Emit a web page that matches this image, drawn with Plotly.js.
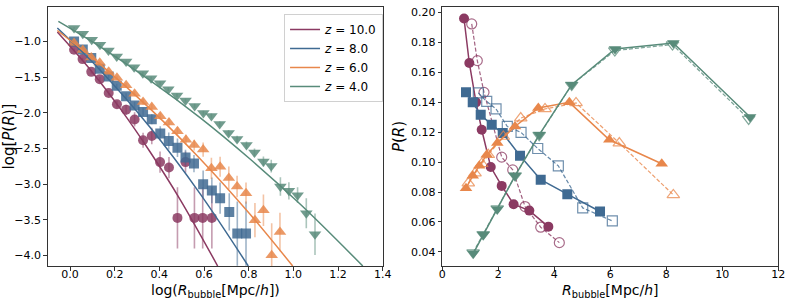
<!DOCTYPE html>
<html>
<head>
<meta charset="utf-8">
<script src="https://cdn.plot.ly/plotly-3.0.1.min.js"></script>
<style>html,body{margin:0;padding:0;background:#fff}#plot{width:789px;height:300px}</style>
</head>
<body>
<div id="plot"></div>
<script>
// ---------- Left panel: log P(R) vs log R ----------
const lx10 = [0.018,0.056,0.095,0.133,0.173,0.210,0.251,0.289,0.327,0.366,0.403,0.443,0.481,0.517,0.557,0.594,0.635];
const ly10 = [-1.117,-1.247,-1.426,-1.528,-1.721,-1.879,-1.955,-2.093,-2.385,-2.324,-2.690,-2.767,-3.472,-2.690,-3.472,-3.472,-3.472];
const le10 = [0.02,0.02,0.025,0.03,0.035,0.05,0.07,0.1,0.105,0.115,0.15,0.15,0.43,0.15,0.43,0.43,0.43];

const lx8 = [0.018,0.057,0.095,0.133,0.173,0.209,0.251,0.289,0.327,0.366,0.404,0.442,0.481,0.517,0.555,0.596,0.635,0.672,0.713,0.749,0.788];
const ly8 = [-1.000,-1.112,-1.233,-1.381,-1.492,-1.622,-1.767,-1.896,-1.987,-2.090,-2.289,-2.395,-2.490,-2.626,-2.711,-2.999,-3.087,-3.195,-3.388,-3.691,-3.691];
const le8 = [0.015,0.015,0.02,0.02,0.025,0.03,0.04,0.05,0.06,0.07,0.1,0.12,0.13,0.11,0.12,0.19,0.18,0.22,0.26,0.45,0.45];

const lx6 = [0.018,0.057,0.095,0.133,0.173,0.210,0.251,0.289,0.327,0.366,0.404,0.443,0.481,0.519,0.556,0.596,0.633,0.672,0.711,0.748,0.788,0.828,0.866,0.903,0.940];
const ly6 = [-1.022,-1.121,-1.226,-1.299,-1.426,-1.507,-1.615,-1.732,-1.847,-1.917,-2.048,-2.135,-2.258,-2.376,-2.451,-2.515,-2.778,-2.756,-2.912,-3.031,-3.125,-3.504,-3.364,-3.996,-3.669];
const le6 = [0.015,0.015,0.02,0.02,0.025,0.025,0.03,0.035,0.04,0.045,0.05,0.055,0.06,0.07,0.075,0.1,0.15,0.14,0.16,0.15,0.15,0.24,0.22,0.45,0.27];

const lx4 = [0.018,0.057,0.097,0.134,0.172,0.209,0.251,0.287,0.326,0.363,0.403,0.440,0.479,0.517,0.558,0.597,0.633,0.670,0.710,0.748,0.790,0.826,0.866,0.901,0.942,0.980,1.019,1.058,1.097];
const ly4 = [-0.812,-0.892,-0.976,-1.046,-1.126,-1.211,-1.281,-1.360,-1.444,-1.514,-1.584,-1.669,-1.756,-1.826,-1.903,-2.001,-2.044,-2.156,-2.282,-2.367,-2.451,-2.556,-2.683,-2.746,-3.031,-3.093,-3.153,-3.406,-3.701];
const le4 = [0.01,0.01,0.01,0.012,0.012,0.014,0.015,0.016,0.018,0.02,0.022,0.024,0.026,0.028,0.03,0.032,0.035,0.038,0.04,0.045,0.05,0.055,0.07,0.09,0.13,0.12,0.11,0.21,0.29];

// fitted curves
const fx10 = [-0.0569,0.0896,0.224,0.358,0.493,0.661];
const fy10 = [-0.868,-1.392,-1.938,-2.545,-3.215,-4.146];
const fx8 = [-0.0569,0.134,0.358,0.582,0.798];
const fy8 = [-0.812,-1.399,-2.202,-3.131,-4.146];
const fx6 = [-0.0569,0.134,0.358,0.582,0.806,0.997];
const fy6 = [-0.846,-1.317,-1.941,-2.643,-3.421,-4.146];
const fx4 = [-0.0524,0.134,0.358,0.582,0.806,1.030,1.311];
const fy4 = [-0.719,-1.072,-1.544,-2.067,-2.647,-3.278,-4.146];

const zLabels = ['<i>z</i> = 10.0','<i>z</i> = 8.0','<i>z</i> = 6.0','<i>z</i> = 4.0'];

// ---------- Right panel: P(R) vs R ----------
const rx10 = [0.775,0.964,1.204,1.407,1.729,2.121,2.546,3.107,3.786];
const ry10 = [0.1959,0.1662,0.1399,0.1216,0.0967,0.0841,0.0719,0.0676,0.0569];
const rx10o = [1.05,1.25,1.489,2.121,2.514,2.954,3.514,4.179];
const ry10o = [0.1923,0.1678,0.1466,0.1033,0.0948,0.0703,0.0565,0.0462];

const rx8 = [0.846,1.086,1.371,1.764,2.157,2.775,3.514,4.464,5.632];
const ry8 = [0.1466,0.1399,0.1316,0.1249,0.1194,0.1042,0.0882,0.0786,0.0670];
const rx8o = [1.286,1.586,1.918,2.321,2.811,3.407,4.143,5.014,6.071];
const ry8o = [0.1462,0.1405,0.1355,0.1238,0.1198,0.1091,0.0975,0.0694,0.0607];

const rx6 = [0.846,1.086,1.321,1.586,1.964,2.596,3.429,4.536,5.964,7.836];
const ry6 = [0.0826,0.0908,0.0975,0.1049,0.1127,0.1238,0.1361,0.1399,0.1149,0.0989];
const rx6o = [0.929,1.168,1.407,1.643,2.179,2.8,3.668,4.775,6.321,8.25];
const ry6o = [0.0860,0.0926,0.0989,0.1049,0.1171,0.1294,0.1355,0.1395,0.1127,0.0781];

const rx4 = [1.107,1.464,1.964,2.596,3.464,4.621,6.168,8.25,10.99];
const ry4 = [0.0391,0.0514,0.0686,0.0908,0.1183,0.1517,0.1756,0.1796,0.1301];
const rx4o = [1.10,1.46,1.96,2.60,3.46,4.62,6.16,8.22,10.94];
const ry4o = [0.0395,0.0518,0.0690,0.0910,0.1180,0.1515,0.1745,0.1785,0.1288];

const leftXTitle = 'log(<i>R</i><sub>bubble</sub>[Mpc/<i>h</i>])';
const rightXTitle = '<i>R</i><sub>bubble</sub>[Mpc/<i>h</i>]';

// ---------- styling ----------
const cols = ['#8b3a62','#3f6a92','#e8874b','#588b7a'];
const rgba = (hex,a)=>{const n=parseInt(hex.slice(1),16);return `rgba(${n>>16},${(n>>8)&255},${n&255},${a})`;};
const syms = ['circle','square','triangle-up','triangle-down'];
const sizes = [10,10,11,11];

const LX=[lx10,lx8,lx6,lx4], LY=[ly10,ly8,ly6,ly4], LE=[le10,le8,le6,le4];
const FX=[fx10,fx8,fx6,fx4], FY=[fy10,fy8,fy6,fy4];
const RX=[rx10,rx8,rx6,rx4], RY=[ry10,ry8,ry6,ry4];
const RXo=[rx10o,rx8o,rx6o,rx4o], RYo=[ry10o,ry8o,ry6o,ry4o];

const traces=[];
for(let i=0;i<4;i++){
  traces.push({x:LX[i],y:LY[i],type:'scatter',mode:'markers',xaxis:'x',yaxis:'y',showlegend:false,
    marker:{symbol:syms[i],size:sizes[i],color:rgba(cols[i],0.85),line:{width:0}},
    error_y:{type:'data',array:LE[i],visible:true,color:rgba(cols[i],0.5),thickness:1.6,width:0},
    cliponaxis:true,hoverinfo:'skip'});
}
for(let i=0;i<4;i++){
  traces.push({x:FX[i],y:FY[i],type:'scatter',mode:'lines',xaxis:'x',yaxis:'y',name:zLabels[i],
    line:{color:cols[i],width:1.5,shape:'spline'},hoverinfo:'skip'});
}
for(let i=0;i<4;i++){
  traces.push({x:RXo[i],y:RYo[i],type:'scatter',mode:'lines+markers',xaxis:'x2',yaxis:'y2',showlegend:false,
    line:{color:rgba(cols[i],0.8),width:1.2,dash:'4px,2px'},
    marker:{symbol:syms[i]+'-open',size:sizes[i],color:rgba(cols[i],0.75),line:{width:1.2}},hoverinfo:'skip'});
  traces.push({x:RX[i],y:RY[i],type:'scatter',mode:'lines+markers',xaxis:'x2',yaxis:'y2',showlegend:false,
    line:{color:cols[i],width:1.5},
    marker:{symbol:syms[i],size:sizes[i],color:cols[i],line:{width:0}},hoverinfo:'skip'});
}

const axBase = {showline:true,mirror:true,linecolor:'#333',linewidth:1,ticks:'outside',ticklen:3.5,tickwidth:1,
  tickcolor:'#333',showgrid:false,zeroline:false,tickfont:{family:'DejaVu Sans',size:11,color:'#000'}};
const titleFont = {family:'DejaVu Sans',size:15,color:'#000'};
const xTitleFont = {family:'DejaVu Sans',size:14,color:'#000'};

const layout = {
  width:789,height:300,margin:{l:0,r:0,t:7,b:34},paper_bgcolor:'#fff',plot_bgcolor:'#fff',
  font:{family:'DejaVu Sans',color:'#000'},
  xaxis:Object.assign({},axBase,{domain:[0.0605,0.485],anchor:'y',range:[-0.1,1.4],tick0:0,dtick:0.2,tickformat:'.1f',ticklabelstandoff:-6}),
  yaxis:Object.assign({},axBase,{domain:[0,1],anchor:'x',range:[-4.146,-0.517],tick0:-4,dtick:0.5,tickformat:'.1f',
    title:{text:'log[<i>P</i>(<i>R</i>)]',font:titleFont,standoff:2}}),
  xaxis2:Object.assign({},axBase,{domain:[0.5606,0.9865],anchor:'y2',range:[0,12],tick0:0,dtick:2,ticklabelstandoff:-6}),
  yaxis2:Object.assign({},axBase,{domain:[0,1],anchor:'x2',range:[0.0306,0.2036],tick0:0.04,dtick:0.02,tickformat:'.2f',
    title:{text:'<i>P</i>(<i>R</i>)',font:titleFont,standoff:2}}),
  annotations:[
    {text:leftXTitle,xref:'paper',yref:'paper',x:0.2728,y:-0.097,xanchor:'center',yanchor:'middle',showarrow:false,font:xTitleFont},
    {text:rightXTitle,xref:'paper',yref:'paper',x:0.7735,y:-0.097,xanchor:'center',yanchor:'middle',showarrow:false,font:xTitleFont}
  ],
  legend:{x:0.36,y:0.973,xanchor:'left',yanchor:'top',bgcolor:'rgba(255,255,255,0.85)',bordercolor:'#d0d0d0',borderwidth:1,
    font:{family:'DejaVu Sans',size:12,color:'#000'},itemwidth:30,tracegroupgap:0},
  showlegend:true
};
Plotly.newPlot('plot',traces,layout,{displayModeBar:false,staticPlot:true});
</script>
</body>
</html>
